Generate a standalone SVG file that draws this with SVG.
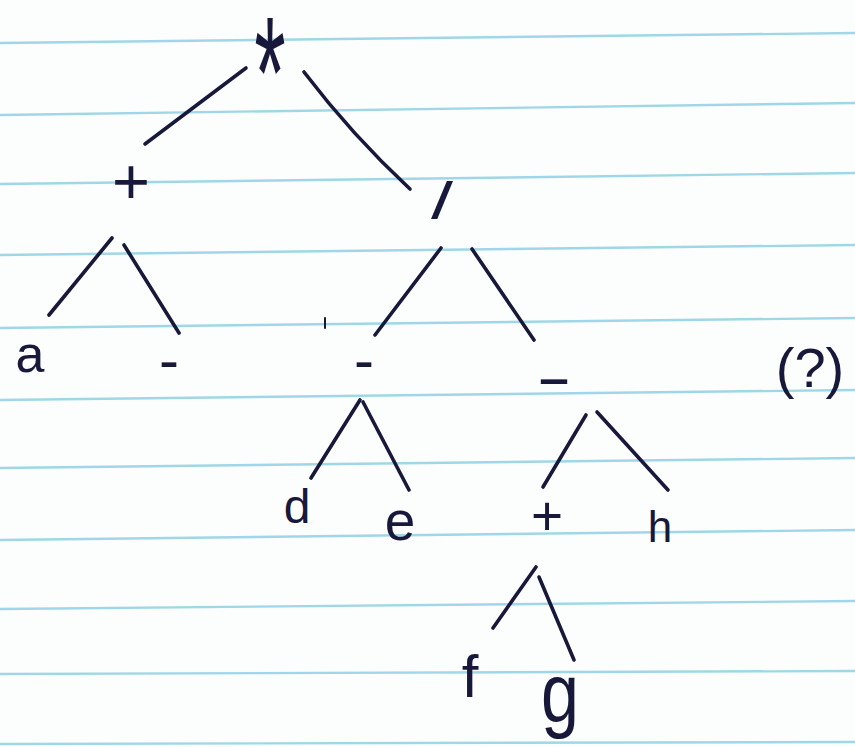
<svg xmlns="http://www.w3.org/2000/svg" width="855" height="747" viewBox="0 0 855 747">
<style>
.paper{fill:#fcfdfd}
.rule{stroke:#9fd7e7;stroke-width:2.4;fill:none}
.edge{stroke:#17183a;stroke-width:3.6;stroke-linecap:round;fill:none}
.lbl{fill:#17183a;font-family:"Liberation Sans",Arial,sans-serif;text-anchor:middle}
</style>
<rect class="paper" x="0" y="0" width="855" height="747"/>
<g id="ruled-lines">
<line class="rule" x1="0" y1="43" x2="855" y2="33"/>
<line class="rule" x1="0" y1="115" x2="855" y2="103"/>
<line class="rule" x1="0" y1="184" x2="855" y2="173"/>
<line class="rule" x1="0" y1="255" x2="855" y2="245"/>
<line class="rule" x1="0" y1="328" x2="855" y2="318"/>
<line class="rule" x1="0" y1="400" x2="855" y2="390"/>
<line class="rule" x1="0" y1="468" x2="855" y2="458"/>
<line class="rule" x1="0" y1="540" x2="855" y2="530"/>
<line class="rule" x1="0" y1="609" x2="855" y2="601"/>
<line class="rule" x1="0" y1="674" x2="855" y2="671"/>
<line class="rule" x1="0" y1="744" x2="855" y2="742"/>
</g>
<g id="connectors">
<line class="edge" x1="246" y1="68" x2="145" y2="144"/>
<path class="edge" d="M304,72 Q352,135 410,189"/>
<line class="edge" x1="112" y1="238" x2="49" y2="315"/>
<line class="edge" x1="124" y1="245" x2="179" y2="333"/>
<line class="edge" x1="441" y1="248" x2="375" y2="335"/>
<line class="edge" x1="472" y1="249" x2="534" y2="340"/>
<line class="edge" x1="360" y1="400" x2="311" y2="478"/>
<line class="edge" x1="363" y1="402" x2="409" y2="490"/>
<line class="edge" x1="586" y1="415" x2="543" y2="487"/>
<line class="edge" x1="597" y1="412" x2="668" y2="490"/>
<line class="edge" x1="536" y1="567" x2="493" y2="628"/>
<line class="edge" x1="539" y1="577" x2="574" y2="660"/>
<line class="edge" x1="325" y1="318" x2="325" y2="328" style="stroke-width:2"/>
</g>
<g id="n-times"><text class="lbl" transform="translate(270,134) scale(1,2)" x="0" y="0" font-size="80" style="font-family:'Liberation Mono',monospace">*</text></g>
<g id="n-plus1"><text class="lbl" x="131" y="204" font-size="65">+</text></g>
<g id="n-div"><text class="lbl" x="442" y="219" font-size="52" textLength="22" lengthAdjust="spacingAndGlyphs">/</text></g>
<g id="n-a"><text class="lbl" x="30" y="372" font-size="52">a</text></g>
<g id="n-minus1"><text class="lbl" x="169" y="380" font-size="60">-</text></g>
<g id="n-minus2"><text class="lbl" x="364" y="380" font-size="60">-</text></g>
<g id="n-minus3"><text class="lbl" x="554" y="397" font-size="60" textLength="36" lengthAdjust="spacingAndGlyphs">-</text></g>
<g id="n-d"><text class="lbl" x="297" y="523" font-size="48">d</text></g>
<g id="n-e"><text class="lbl" x="400" y="540" font-size="55">e</text></g>
<g id="n-plus2"><text class="lbl" x="547" y="535" font-size="55">+</text></g>
<g id="n-h"><text class="lbl" x="660" y="542" font-size="44">h</text></g>
<g id="n-f"><text class="lbl" x="470" y="697" font-size="60">f</text></g>
<g id="n-g"><text class="lbl" transform="translate(560,722) scale(1.1,1.35)" x="0" y="0" font-size="62">g</text></g>
<g id="note"><text class="lbl" x="810" y="387" font-size="56">(?)</text></g>
</svg>
